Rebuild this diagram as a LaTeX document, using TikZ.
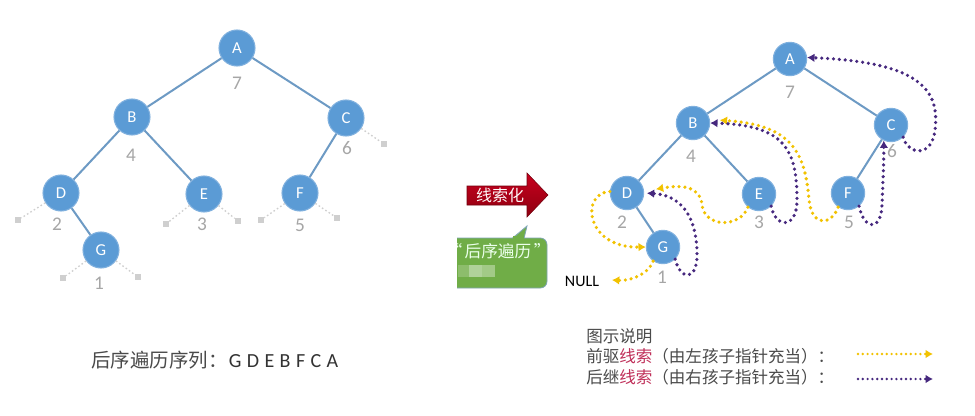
\documentclass[tikz,border=0pt]{standalone}
\usepackage{fontspec}
\setmainfont{Carlito}
\newfontfamily\cjk{Noto Sans CJK SC}
\newfontfamily\carl{Carlito}
\usetikzlibrary{arrows.meta}
\definecolor{nodeblue}{HTML}{5B9BD5}
\definecolor{nodeborder}{HTML}{7FB0DE}
\definecolor{edgeblue}{HTML}{6D9AC4}
\definecolor{numgray}{HTML}{A6A6A6}
\definecolor{stubgray}{HTML}{CFCFCF}
\definecolor{thyellow}{HTML}{F2C200}
\definecolor{thpurple}{HTML}{46287E}
\definecolor{thred}{HTML}{C0305A}
\definecolor{darkred}{HTML}{8E0010}
\definecolor{midred}{HTML}{C8001E}
\definecolor{calloutgreen}{HTML}{70AD47}
\definecolor{calloutedge}{HTML}{7FA6B5}
\definecolor{txtgray}{HTML}{4A4A4A}
\tikzset{
  treenode/.style={circle, fill=nodeblue, draw=nodeborder, line width=0.8pt, text=white, inner sep=0pt, font=\carl\fontsize{12.5}{14}\selectfont},
  lnode/.style={treenode, minimum size=27pt},
  rnode/.style={treenode, minimum size=25pt},
  numlbl/.style={text=numgray, inner sep=0pt, font=\carl\fontsize{14.5}{16}\selectfont},
  treeedge/.style={draw=edgeblue, line width=1.5pt},
  nullbox/.style={rectangle, fill=stubgray, minimum size=4.5pt, inner sep=0pt},
  stub/.style={draw=stubgray, line width=1pt, dash pattern=on 1.2pt off 1.8pt},
  yth/.style={draw=thyellow, line width=2.7pt, line cap=round, dash pattern=on 0pt off 4.4pt, -{Latex[length=5.5pt,width=6.5pt]}},
  pth/.style={draw=thpurple, line width=2.7pt, line cap=round, dash pattern=on 0pt off 4.4pt, -{Latex[length=5.5pt,width=6.5pt]}},
  txt/.style={inner sep=0pt, anchor=west},
}
\begin{document}
\begin{tikzpicture}[x=0.75pt,y=-0.75pt]
\useasboundingbox (0,0) rectangle (975,415);
\fill[white] (0,0) rectangle (975,415);

% ---------- left tree ----------
\node[lnode] (lA) at (237,48) {A};
\node[lnode] (lB) at (132,117) {B};
\node[lnode] (lC) at (346,118) {C};
\node[lnode] (lD) at (61,193) {D};
\node[lnode] (lE) at (204,194) {E};
\node[lnode] (lF) at (300,193) {F};
\node[lnode] (lG) at (101,250) {G};
\draw[treeedge] (lA) -- (lB);
\draw[treeedge] (lA) -- (lC);
\draw[treeedge] (lB) -- (lD);
\draw[treeedge] (lB) -- (lE);
\draw[treeedge] (lC) -- (lF);
\draw[treeedge] (lD) -- (lG);

\node[numlbl] (n7) at (237,83) {7};
\node[numlbl] (n4) at (131,155) {4};
\node[numlbl] (n6) at (347,148) {6};
\node[numlbl] (n2) at (57,224) {2};
\node[numlbl] (n3) at (202,224) {3};
\node[numlbl] (n5) at (300,225) {5};
\node[numlbl] (n1) at (99,283) {1};

\node[nullbox] (sDl) at (18,220) {};
\node[nullbox] (sEl) at (166,224) {};
\node[nullbox] (sEr) at (238,221) {};
\node[nullbox] (sFl) at (261,220) {};
\node[nullbox] (sFr) at (337,218) {};
\node[nullbox] (sGl) at (63,278) {};
\node[nullbox] (sGr) at (138,277) {};
\node[nullbox] (sCr) at (384,144) {};
\draw[stub] (lD) -- (sDl);
\draw[stub] (lE) -- (sEl);
\draw[stub] (lE) -- (sEr);
\draw[stub] (lF) -- (sFl);
\draw[stub] (lF) -- (sFr);
\draw[stub] (lG) -- (sGl);
\draw[stub] (lG) -- (sGr);
\draw[stub] (lC) -- (sCr);

\node[txt, text=txtgray] (seq) at (91,360) {{\cjk\fontsize{14.6}{16}\selectfont 后序遍历序列：}\hspace{0.1em}{\carl\fontsize{15}{16}\selectfont\color{black!80}G\hspace{0.27em}D\hspace{0.27em}E\hspace{0.27em}B\hspace{0.27em}F\hspace{0.27em}C\hspace{0.27em}A}};

% ---------- red arrow ----------
\shade[top color=midred, bottom color=darkred, draw=darkred!80!black, line width=0.4pt]
  (467,186) -- (527,186) -- (527,173) -- (548,195) -- (527,217) -- (527,205) -- (467,205) -- cycle;
\node[inner sep=0pt, text=white!90!pink, font=\cjk\fontsize{12}{13}\selectfont] (xsh) at (500,195.5) {线索化};

% ---------- green callout ----------
\begin{scope}
\clip (457,0) rectangle (975,415);
\fill[calloutgreen] (512,239) -- (527,226) -- (524,239) -- cycle;
\draw[calloutedge, line width=0.6pt] (512,238.5) -- (527,226) -- (524,238.5);
\draw[fill=calloutgreen, draw=calloutedge, line width=0.6pt, rounded corners=5pt] (430,238) rectangle (547,288);
\fill[calloutgreen] (512.5,236) rectangle (523.5,240);
\fill[calloutgreen!80!white] (458,265) rectangle (469,277);
\fill[calloutgreen!55!white] (469,265) rectangle (482,277);
\fill[calloutgreen!65!white] (482,265) rectangle (495,277);
\node[inner sep=0pt, text=white!92!green, font=\cjk\fontsize{12.5}{14}\selectfont] (hx) at (498,251) {“\hspace{0.15em}后序遍历\hspace{0.15em}”};
\end{scope}

% ---------- right tree ----------
\node[rnode] (A) at (790,59) {A};
\node[rnode] (B) at (693,123) {B};
\node[rnode] (C) at (891,125) {C};
\node[rnode] (D) at (627,193) {D};
\node[rnode] (E) at (759,194) {E};
\node[rnode] (F) at (848,193) {F};
\node[rnode] (G) at (663,247) {G};
\draw[treeedge] (A) -- (B);
\draw[treeedge] (A) -- (C);
\draw[treeedge] (B) -- (D);
\draw[treeedge] (B) -- (E);
\draw[treeedge] (C) -- (F);
\draw[treeedge] (D) -- (G);

\node[numlbl] (m7) at (790,92) {7};
\node[numlbl] (m4) at (691,156) {4};
\node[numlbl] (m6) at (892,151) {6};
\node[numlbl] (m2) at (622,222) {2};
\node[numlbl] (m3) at (759,222) {3};
\node[numlbl] (m5) at (849,222) {5};
\node[numlbl] (m1) at (662,277) {1};

\node[inner sep=0pt, font=\carl\fontsize{12}{13}\selectfont] (NULL) at (582,281) {NULL};
\coordinate (nulltip) at (612,280);

% predecessor threads (yellow)
\draw[yth] (G.235) .. controls (648,275) and (630,281) .. (nulltip);
\draw[yth] (D.175) .. controls (580,193) and (585,248) .. (G.180);
\draw[yth, shorten >=9pt] (E.230) .. controls (740,228) and (705,228) .. (702,205) .. controls (700,185) and (680,185) .. (D.6);
\draw[yth, shorten >=7.5pt] (F.235) .. controls (832,225) and (812,228) .. (809,200) .. controls (805,150) and (790,125) .. (B.12);

% successor threads (purple)
\draw[pth, shorten >=2pt] (G.-45) .. controls (680,280) and (697,282) .. (697,255) .. controls (697,215) and (680,195) .. (D.east);
\draw[pth] (E.-45) .. controls (775,228) and (797,230) .. (797,200) .. controls (797,150) and (785,125) .. (B.east);
\draw[pth] (F.-50) .. controls (864,230) and (881,232) .. (882,205) .. controls (883,180) and (884,160) .. (C.245);
\draw[pth] (C.-45) .. controls (908,155) and (932,158) .. (935,130) .. controls (940,90) and (920,62) .. (A.5);

% ---------- legend ----------
\node[txt, text=txtgray, font=\cjk\fontsize{12.4}{14}\selectfont] (lg0) at (586,336) {图示说明};
\node[txt, text=txtgray, font=\cjk\fontsize{12.4}{14}\selectfont] (lg1) at (586,356) {前驱{\color{thred}线索}（由左孩子指针充当）：};
\node[txt, text=txtgray, font=\cjk\fontsize{12.4}{14}\selectfont] (lg2) at (586,377) {后继{\color{thred}线索}（由右孩子指针充当）：};
\coordinate (ly1) at (858,354);
\coordinate (ly2) at (933,354);
\coordinate (lp1) at (858,379);
\coordinate (lp2) at (933,379);
\draw[yth, line width=2pt, dash pattern=on 0pt off 3.6pt] (ly1) -- (ly2);
\draw[pth, line width=2pt, dash pattern=on 0pt off 3.6pt] (lp1) -- (lp2);
\end{tikzpicture}
\end{document}
